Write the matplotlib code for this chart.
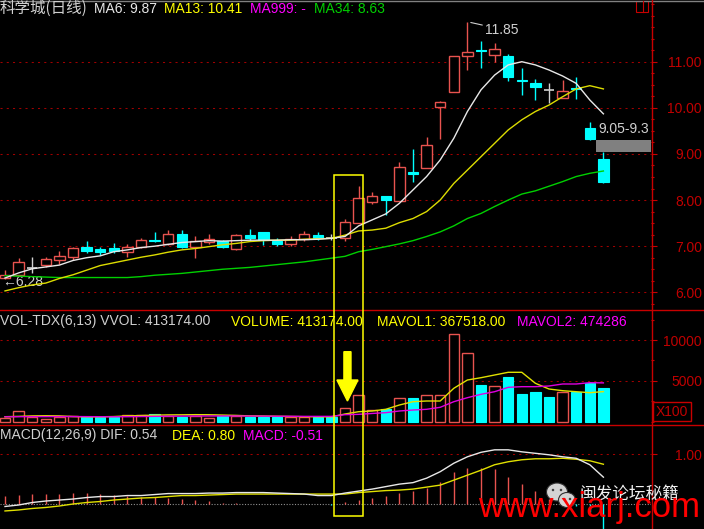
import matplotlib
matplotlib.use('Agg')
import matplotlib.pyplot as plt
from matplotlib.patches import Rectangle, Ellipse, FancyArrow
from matplotlib.lines import Line2D
from matplotlib.ticker import MultipleLocator
from matplotlib.transforms import Bbox, TransformedBbox
import numpy as np

# ---------------- data ----------------
opens = [6.30, 6.38, 6.53, 6.59, 6.69, 6.77, 6.98, 6.94, 6.95, 6.87, 6.98, 7.13, 7.05, 7.26, 6.99,
         7.10, 7.11, 6.94, 7.24, 7.30, 7.11, 7.05, 7.16, 7.24, 7.17, 7.17, 7.51, 7.95, 8.09, 7.99,
         8.60, 8.69, 10.01, 10.34, 11.12, 11.25, 11.15, 11.12, 10.60, 10.53, 10.39, 10.21, 10.42, 9.56, 8.89]
highs = [6.48, 6.74, 6.77, 6.76, 6.90, 6.99, 7.11, 6.99, 7.06, 7.05, 7.17, 7.30, 7.35, 7.35, 7.22,
         7.26, 7.14, 7.26, 7.37, 7.31, 7.18, 7.21, 7.33, 7.30, 7.26, 7.60, 8.30, 8.18, 8.09, 8.82,
         9.10, 9.37, 10.14, 11.12, 11.85, 11.45, 11.41, 11.17, 10.86, 10.62, 10.54, 10.60, 10.67, 9.70, 9.05]
lows = [6.28, 6.36, 6.42, 6.55, 6.61, 6.69, 6.85, 6.81, 6.85, 6.77, 6.95, 7.08, 7.03, 6.97, 6.74,
        7.04, 6.97, 6.92, 7.12, 7.03, 7.01, 7.01, 7.12, 7.13, 7.13, 7.12, 7.50, 7.91, 7.68, 7.99,
        8.40, 8.69, 9.32, 10.34, 10.82, 10.86, 10.99, 10.59, 10.28, 10.17, 10.10, 10.21, 10.19, 9.30, 8.38]
closes = [6.38, 6.66, 6.53, 6.72, 6.79, 6.95, 6.90, 6.88, 6.90, 6.99, 7.13, 7.11, 7.26, 6.99, 7.11,
          7.16, 6.99, 7.24, 7.18, 7.13, 7.04, 7.16, 7.26, 7.17, 7.17, 7.53, 8.05, 8.09, 8.00, 8.71,
          8.57, 9.19, 10.12, 11.12, 11.20, 11.23, 11.28, 10.66, 10.58, 10.46, 10.39, 10.37, 10.40, 9.32, 8.40]

ma6 = [6.31, 6.42, 6.51, 6.55, 6.59, 6.69, 6.75, 6.79, 6.88, 6.92, 6.97, 7.00, 7.04, 7.08, 7.10,
       7.12, 7.11, 7.12, 7.13, 7.13, 7.13, 7.14, 7.14, 7.15, 7.17, 7.21, 7.44, 7.57, 7.70, 7.93,
       8.22, 8.51, 8.87, 9.34, 9.92, 10.39, 10.71, 10.93, 11.00, 10.93, 10.82, 10.69, 10.53, 10.17, 9.87]
ma13 = [6.03, 6.10, 6.16, 6.20, 6.30, 6.38, 6.48, 6.58, 6.64, 6.70, 6.76, 6.81, 6.87, 6.92, 6.95,
        6.99, 7.03, 7.06, 7.10, 7.12, 7.13, 7.13, 7.15, 7.16, 7.17, 7.24, 7.33, 7.35, 7.39, 7.51,
        7.60, 7.75, 8.00, 8.36, 8.65, 8.94, 9.23, 9.52, 9.74, 9.92, 10.06, 10.24, 10.41, 10.48, 10.41]
ma34 = [6.36, 6.35, 6.34, 6.33, 6.32, 6.32, 6.32, 6.32, 6.32, 6.32, 6.34, 6.37, 6.39, 6.41, 6.44,
        6.47, 6.50, 6.52, 6.54, 6.57, 6.60, 6.63, 6.66, 6.70, 6.74, 6.78, 6.88, 6.93, 6.99, 7.05,
        7.12, 7.21, 7.31, 7.44, 7.60, 7.71, 7.86, 8.00, 8.13, 8.20, 8.30, 8.40, 8.51, 8.58, 8.63]

volume = [45100, 125600, 57300, 32900, 57300, 73200, 52400, 57300, 57300, 85400, 85400, 93500, 73200,
          57300, 73200, 45100, 65000, 73200, 57300, 57300, 57300, 57300, 57300, 57300, 57300, 166700,
          326000, 142200, 150700, 285500, 285500, 326000, 326000, 1069900, 844400, 448500, 440000,
          550200, 334600, 359100, 297800, 359100, 366400, 469400, 413174]
vol_up = [1, 1, 1, 1, 1, 1, 0, 0, 0, 1, 1, 0, 1, 0, 1, 1, 0, 1, 0, 0, 0, 1, 1, 0, 0, 1, 1, 1, 0, 1,
          0, 1, 1, 1, 1, 0, 1, 0, 0, 0, 0, 1, 0, 0, 0]
mavol1 = [60000, 64000, 70000, 72000, 70000, 62000, 58000, 59000, 62000, 70000, 74000, 79000, 82000,
          83000, 85000, 84000, 80000, 76000, 70000, 68000, 65000, 63000, 60000, 59000, 58000, 93100,
          121300, 130000, 150700, 203400, 244000, 252500, 252500, 408000, 509800, 538000, 571100,
          604200, 604200, 469400, 399500, 378700, 366400, 354200, 367518]
mavol2 = [59000, 60000, 61000, 61000, 62000, 62000, 61000, 60000, 59000, 60000, 62000, 64000, 66000,
          67000, 68000, 69000, 69000, 69000, 68000, 67000, 66000, 65000, 64000, 64000, 64000, 85000,
          89000, 100000, 109500, 130000, 142000, 150700, 175000, 244000, 293000, 334600, 366400,
          420000, 428000, 428000, 436300, 460800, 460800, 477000, 474286]

dif = [-0.05, -0.02, 0.03, 0.06, 0.08, 0.10, 0.13, 0.15, 0.15, 0.17, 0.17, 0.19, 0.21, 0.21, 0.21,
       0.22, 0.22, 0.23, 0.23, 0.23, 0.22, 0.21, 0.20, 0.17, 0.17, 0.22, 0.26, 0.30, 0.35, 0.40,
       0.43, 0.52, 0.65, 0.82, 0.95, 1.04, 1.09, 1.09, 1.05, 1.02, 0.99, 0.95, 0.92, 0.79, 0.54]
dea = [-0.14, -0.12, -0.09, -0.07, -0.04, 0.00, 0.03, 0.05, 0.08, 0.10, 0.12, 0.13, 0.15, 0.17, 0.17,
       0.18, 0.19, 0.20, 0.20, 0.20, 0.20, 0.20, 0.20, 0.20, 0.20, 0.20, 0.23, 0.25, 0.27, 0.28,
       0.30, 0.34, 0.38, 0.48, 0.58, 0.68, 0.79, 0.85, 0.89, 0.91, 0.91, 0.92, 0.90, 0.87, 0.80]
macd = [0.16, 0.18, 0.20, 0.20, 0.20, 0.23, 0.23, 0.20, 0.18, 0.16, 0.15, 0.15, 0.13, 0.10, 0.08,
        0.06, 0.03, 0.03, 0.01, 0.01, 0.00, 0.00, -0.01, -0.01, -0.02, 0.04, 0.08, 0.13, 0.16, 0.23,
        0.26, 0.33, 0.44, 0.64, 0.72, 0.72, 0.70, 0.55, 0.40, 0.26, 0.10, 0.01, -0.05, -0.16, -0.51]

price_ticks = [6, 7, 8, 9, 10, 11]
vol_ticks = [5000, 10000]          # in units of 100
macd_ticks = [1.0]
stock_name = '科学城(日线)'
gap_low, gap_high = 9.05, 9.30
high_label = '11.85'
low_label = '6.28'

# ---------------- style ----------------
W, H = 704, 529
LAT = 'Liberation Sans'
CJK = 'Noto Sans CJK SC'
RED = '#e8534f'
CYAN = '#00ffff'
AX_RED = '#c80000'
TXT_RED = '#c00000'
GRID_RED = '#a00000'
GRAY = '#d0d0d0'
WHITE = '#e8e8e8'
YEL = '#ffff00'
MAG = '#ff00ff'
GRN = '#00d000'

o = np.array(opens); h = np.array(highs); l = np.array(lows); c = np.array(closes)
n = len(o)
x = np.arange(n)
up = c > o
dn = c < o
eq = c == o
BW = 0.76

fig = plt.figure(figsize=(W / 100, H / 100), dpi=100, facecolor='black')

XL = (-5 / 13.6, (651 - 5) / 13.6)


def px_axes(top, bottom):
    return fig.add_axes([0, 1 - bottom / H, 651 / W, (bottom - top) / H])


def style_axes(ax, ticks, labels, minor=None):
    ax.set_facecolor('black')
    for sp in ax.spines.values():
        sp.set_visible(False)
    ax.set_xticks([])
    ax.set_xlim(*XL)
    ax.yaxis.tick_right()
    ax.set_yticks(ticks, labels=labels, ha='right', fontfamily=LAT, color=TXT_RED, fontsize=10)
    ax.tick_params(axis='y', which='major', right=True, left=False, length=4.5, width=0.8,
                   color=AX_RED, pad=32.2)
    if minor is not None:
        ax.yaxis.set_minor_locator(MultipleLocator(minor))
        ax.tick_params(axis='y', which='minor', right=True, left=False, length=2.5, width=0.8,
                       color=AX_RED)
    ax.grid(axis='y', which='major', color=GRID_RED, linestyle=(0, (2, 4)), linewidth=0.75)
    ax.set_axisbelow(True)


# ---------------- price panel ----------------
axp = px_axes(0, 309.5)
style_axes(axp, price_ticks, [f'{t:.2f}' for t in price_ticks], minor=0.25)
axp.set_ylim(11 - (309.5 - 61.7) / 46.12, 11 + 61.7 / 46.12)

# wicks
axp.vlines(x[dn], l[dn], h[dn], colors=CYAN, lw=1.0, zorder=2)
axp.vlines(x[up], c[up], h[up], colors=RED, lw=1.0, zorder=2)
axp.vlines(x[up], l[up], o[up], colors=RED, lw=1.0, zorder=2)
axp.vlines(x[eq], l[eq], h[eq], colors=GRAY, lw=1.0, zorder=2)
axp.hlines(c[eq], x[eq] - BW / 2, x[eq] + BW / 2, colors=GRAY, lw=1.2, zorder=2)
# bodies
axp.bar(x[up], c[up] - o[up], bottom=o[up], width=BW, facecolor='black', edgecolor=RED,
        linewidth=1.0, zorder=3)
axp.bar(x[dn], np.maximum(o[dn] - c[dn], 0.02), bottom=c[dn], width=BW, facecolor=CYAN,
        edgecolor=CYAN, linewidth=0.8, zorder=3)

axp.plot(x, ma34, color=GRN, lw=1.0, zorder=4)
axp.plot(x, ma13, color='#dcdc00', lw=1.0, zorder=4)
axp.plot(x, ma6, color=WHITE, lw=1.0, zorder=5)

# gap box
axp.add_patch(Rectangle((n - 1 - 0.55, gap_low), XL[1] - (n - 1 - 0.55), gap_high - gap_low,
                        facecolor='#808080', edgecolor='none', zorder=2))
axp.text(n - 1 - 0.4, 9.54, f'{gap_low:.2f}-{gap_high:.1f}', color=GRAY, fontsize=10,
         fontfamily=LAT, va='center', ha='left', clip_on=True)

# high / low labels
imax = int(np.argmax(h))
axp.annotate(high_label, xy=(imax + 0.25, h[imax]), xytext=(imax + 1.3, 11.69), color=GRAY,
             fontsize=10, fontfamily=LAT, va='center', ha='left',
             arrowprops=dict(arrowstyle='-', color=GRAY, lw=0.8, shrinkA=0, shrinkB=0,
                             relpos=(0, 0.8)))
axp.text(-0.2, 6.22, '←' + low_label, color=GRAY, fontsize=10, fontfamily=[LAT, 'DejaVu Sans'],
         va='center', ha='left')

# ---------------- volume panel ----------------
axv = px_axes(309.5, 424.5)
style_axes(axv, vol_ticks, [str(t) for t in vol_ticks], minor=2500)
axv.set_ylim(-(424.5 - 421.6) / 0.00816, (421.6 - 309.5) / 0.00816)
v = np.array(volume) / 100.0
vu = np.array(vol_up, dtype=bool)
axv.bar(x[vu], v[vu], width=BW, facecolor='black', edgecolor=RED, linewidth=1.0, zorder=3)
axv.bar(x[~vu], v[~vu], width=BW, facecolor=CYAN, edgecolor=CYAN, linewidth=0.8, zorder=3)
axv.plot(x, np.array(mavol1) / 100, color='#e0e000', lw=1.0, zorder=4)
axv.plot(x, np.array(mavol2) / 100, color='#e000e0', lw=1.0, zorder=4)
axv.add_patch(FancyArrow(25.18, 8566, 0, 2525 - 8566, width=0.52, head_width=1.55,
                         head_length=2573, length_includes_head=True, color=YEL, zorder=6))

# ---------------- MACD panel ----------------
axm = px_axes(424.5, 529)
style_axes(axm, macd_ticks, [f'{t:.2f}' for t in macd_ticks])
axm.set_ylim((504 - 529) / 49.7, (504 - 424.5) / 49.7)
axm.axhline(0, color='#909090', lw=0.8, linestyle=(0, (1, 1.5)), zorder=1)
mc = np.array(macd)
axm.vlines(x[mc >= 0], 0, mc[mc >= 0], colors=RED, lw=1.0, zorder=2)
axm.vlines(x[mc < 0], 0, mc[mc < 0], colors=CYAN, lw=1.0, zorder=2)
axm.plot(x, dea, color='#e0e000', lw=1.0, zorder=3)
axm.plot(x, dif, color=WHITE, lw=1.0, zorder=4)

# ---------------- frame lines ----------------
fig.add_artist(Line2D([0, 1], [1 - 0.5 / H] * 2, transform=fig.transFigure, color='#808080', lw=1))
fig.add_artist(Line2D([651.5 / W] * 2, [0, 1], transform=fig.transFigure, color=AX_RED, lw=1))
for yy in (309.5, 424.5):
    fig.add_artist(Line2D([0, 1], [1 - yy / H] * 2, transform=fig.transFigure, color=AX_RED, lw=1))
# top-right small boxes
fig.add_artist(Rectangle((636 / W, 1 - 12 / H), 12 / W, 11 / H, transform=fig.transFigure,
                         fill=False, edgecolor=AX_RED, lw=0.8))
fig.add_artist(Line2D([643 / W] * 2, [1 - 12 / H, 1 - 1 / H], transform=fig.transFigure,
                      color=AX_RED, lw=0.8))
# X100 box
fig.add_artist(Rectangle((653 / W, 1 - 420.5 / H), 37.5 / W, 18.5 / H, transform=fig.transFigure,
                         fill=False, edgecolor=AX_RED, lw=1))
fig.text(655.5 / W, 1 - 411.5 / H, 'X100', color=TXT_RED, fontsize=10, fontfamily=LAT,
         va='center', ha='left')

# highlight box
fig.add_artist(Rectangle((333.5 / W, 1 - 515.5 / H), 29 / W, (515.5 - 175) / H,
                         transform=fig.transFigure, fill=False, edgecolor=YEL, lw=1.1, zorder=10))


# ---------------- titles ----------------
def ftext(px, py, s, color, family=LAT, clip=None, size=10, **kw):
    t = fig.text(px / W, 1 - py / H, s, color=color, fontsize=size, fontfamily=family,
                 va='center', ha='left', **kw)
    if clip is not None:
        t.set_clip_box(TransformedBbox(Bbox([[0, 0], [clip / W, 1]]), fig.transFigure))
        t.set_clip_on(True)
    return t


ftext(0, 8.5, stock_name, GRAY, family=[CJK], size=11.2)
ftext(94, 9, f'MA6: {ma6[-1]:.2f}', WHITE)
ftext(164, 9, f'MA13: {ma13[-1]:.2f}', YEL)
ftext(250, 9, 'MA999: -', MAG)
ftext(314, 9, f'MA34: {ma34[-1]:.2f}', GRN)

ftext(0, 321.5, f'VOL-TDX(6,13) VVOL: {volume[-1]:.2f}', GRAY)
ftext(231, 321.5, f'VOLUME: {volume[-1]:.2f}', YEL)
ftext(377, 321.5, f'MAVOL1: {mavol1[-1]:.2f}', YEL)
ftext(517, 321.5, f'MAVOL2: {mavol2[-1]:.2f}', MAG, clip=627)

ftext(0, 435.5, f'MACD(12,26,9) DIF: {dif[-1]:.2f}', GRAY)
ftext(172, 435.5, f'DEA: {dea[-1]:.2f}', YEL)
ftext(243, 435.5, f'MACD: {macd[-1]:.2f}', MAG)

# ---------------- watermark ----------------
for (cx, cy, ew, eh) in [(557, 492, 21, 18), (567, 500, 17, 15)]:
    fig.add_artist(Ellipse((cx / W, 1 - cy / H), ew / W, eh / H, transform=fig.transFigure,
                           facecolor='#d4d4d4', edgecolor='#303030', lw=0.8, zorder=11))
for (ex, ey) in [(553, 490), (561, 490), (564, 499), (570, 499)]:
    fig.add_artist(Ellipse((ex / W, 1 - ey / H), 2.5 / W, 2.5 / H, transform=fig.transFigure,
                           facecolor='#404040', edgecolor='none', zorder=12))
fig.text(580 / W, 1 - 494 / H, '闽发论坛秘籍', color='#f0f0f0', fontsize=12, fontfamily=[CJK],
         va='center', ha='left', zorder=12)
fig.text(478 / W, 1 - 517.5 / H, 'www.xiarj.com', color='#ff0000', fontsize=25, fontfamily=LAT,
         va='baseline', ha='left', zorder=12)

fig.savefig('out.png', dpi=100, facecolor='black')
